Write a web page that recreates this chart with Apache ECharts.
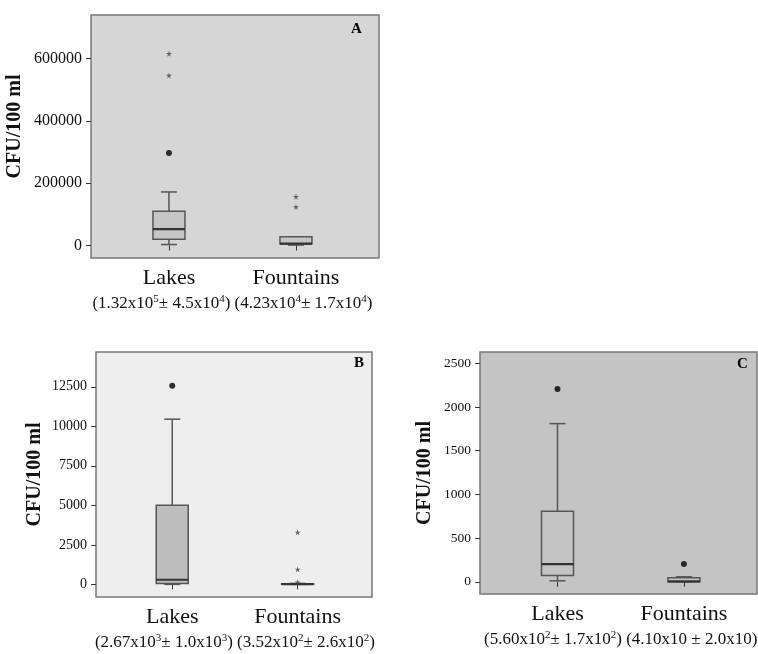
<!DOCTYPE html>
<html>
<head>
<meta charset="utf-8">
<script src="https://cdn.jsdelivr.net/npm/echarts@6/dist/echarts.min.js"></script>
<style>
  html, body { margin: 0; padding: 0; background: #fff; }
  #chart { width: 758px; height: 654px; }
</style>
</head>
<body>
<div id="chart"></div>
<script>
// groups: 1 = Lakes, 2 = Fountains
const categories = ["Lakes", "Fountains"];

// box stats: [whisker low, Q1, median, Q3, whisker high]
const lakesA = [3200, 20000, 53000, 110000, 172000];
const fountainsA = [1500, 5000, 6000, 28000, 28000];
const lakesA_circles = [297000];
const lakesA_stars = [546000, 616000];
const fountainsA_stars = [124000, 157000];

const lakesB = [0, 60, 290, 5000, 10450];
const fountainsB = [0, 0, 15, 40, 60];
const lakesB_circles = [12560];
const fountainsB_stars = [130, 950, 3290];

const lakesC = [11, 72, 202, 808, 1810];
const fountainsC = [0, 0, 5, 45, 57];
const lakesC_circles = [2206];
const fountainsC_circles = [202];

const ticksA = [0, 200000, 400000, 600000];
const ticksB = [0, 2500, 5000, 7500, 10000, 12500];
const ticksC = [0, 500, 1000, 1500, 2000, 2500];

const meansA = "{n|(1.32x10}{s|5}{n|± 4.5x10}{s|4}{n|) (4.23x10}{s|4}{n|± 1.7x10}{s|4}{n|)}";
const meansB = "{n|(2.67x10}{s|3}{n|± 1.0x10}{s|3}{n|) (3.52x10}{s|2}{n|± 2.6x10}{s|2}{n|)}";
const meansC = "{n|(5.60x10}{s|2}{n|± 1.7x10}{s|2}{n|) (4.10x10 ± 2.0x10)}";

const FONT = "Liberation Serif";
const STAR = "path://M50,0 L61,35 L98,35 L68,57 L79,91 L50,70 L21,91 L32,57 L2,35 L39,35 Z";

const panels = [
  { grid: { left: 91, top: 15, width: 288, height: 243 }, bg: "#d6d6d6", fill: "#c6c6c6",
    x: [0.386, 2.654], y: [-40000, 740000], ticks: ticksA, tickFont: 16, nameGap: 66, namePad: [0, 0, 0, 20],
    letter: "A", letterPos: [351, 22], means: meansA },
  { grid: { left: 96, top: 352, width: 276, height: 245 }, bg: "#eeeeee", fill: "#bebebe",
    x: [0.392, 2.593], y: [-800, 14700], ticks: ticksB, tickFont: 14, nameGap: 51, namePad: 0,
    letter: "B", letterPos: [354, 356], means: meansB },
  { grid: { left: 480, top: 352, width: 277, height: 242 }, bg: "#c4c4c4", fill: "#c4c4c4",
    x: [0.387, 2.578], y: [-140, 2630], ticks: ticksC, tickFont: 13.5, nameGap: 45, namePad: 0,
    letter: "C", letterPos: [737, 357], means: meansC }
];

const boxes = [[lakesA, fountainsA], [lakesB, fountainsB], [lakesC, fountainsC]];
const circles = [[lakesA_circles, []], [lakesB_circles, []], [lakesC_circles, fountainsC_circles]];
const stars = [[lakesA_stars, fountainsA_stars], [[], fountainsB_stars], [[], []]];

function toPoints(pair) {
  const out = [];
  pair.forEach((vals, i) => vals.forEach(v => out.push([i + 1, v])));
  return out;
}

function renderBox(fill) {
  return function (params, api) {
    const x = api.value(0);
    const lo = api.coord([x, api.value(1)]);
    const q1 = api.coord([x, api.value(2)]);
    const md = api.coord([x, api.value(3)]);
    const q3 = api.coord([x, api.value(4)]);
    const hi = api.coord([x, api.value(5)]);
    const cx = lo[0], half = 16, cap = 8;
    const stroke = { stroke: "#555", lineWidth: 1.5 };
    return {
      type: "group",
      children: [
        { type: "line", shape: { x1: cx, y1: hi[1], x2: cx, y2: q3[1] }, style: stroke },
        { type: "line", shape: { x1: cx, y1: q1[1], x2: cx, y2: lo[1] }, style: stroke },
        { type: "line", shape: { x1: cx - cap, y1: hi[1], x2: cx + cap, y2: hi[1] }, style: stroke },
        { type: "line", shape: { x1: cx - cap, y1: lo[1], x2: cx + cap, y2: lo[1] }, style: stroke },
        { type: "rect", shape: { x: cx - half, y: q3[1], width: half * 2, height: q1[1] - q3[1] },
          style: { fill: fill, stroke: "#555", lineWidth: 1.5 } },
        { type: "line", shape: { x1: cx - half, y1: md[1], x2: cx + half, y2: md[1] },
          style: { stroke: "#333", lineWidth: 2.2 } }
      ]
    };
  };
}

const grid = [], xAxis = [], yAxis = [], series = [], title = [];

panels.forEach((p, i) => {
  grid.push(Object.assign({ show: true, backgroundColor: p.bg, borderColor: "#777", borderWidth: 1.5,
    containLabel: false, outerBoundsMode: "none" }, p.grid));

  xAxis.push({
    type: "value", gridIndex: i, min: p.x[0], max: p.x[1],
    axisLine: { show: false }, splitLine: { show: false },
    axisTick: { show: true, customValues: [1, 2], length: 5, lineStyle: { color: "#333" } },
    axisLabel: { customValues: [1, 2], margin: 9, formatter: v => categories[Math.round(v) - 1],
      fontFamily: FONT, fontSize: 22, color: "#111" }
  });
  xAxis.push({
    type: "value", gridIndex: i, min: p.x[0], max: p.x[1], position: "bottom",
    axisLine: { show: false }, splitLine: { show: false }, axisTick: { show: false },
    axisLabel: { customValues: [1.5], margin: 36, formatter: () => p.means,
      rich: {
        n: { fontFamily: FONT, fontSize: 17, lineHeight: 20, color: "#111" },
        s: { fontFamily: FONT, fontSize: 11, lineHeight: 11, verticalAlign: "top", color: "#111" }
      } }
  });

  yAxis.push({
    type: "value", gridIndex: i, min: p.y[0], max: p.y[1],
    axisLine: { show: false }, splitLine: { show: false },
    axisTick: { show: true, customValues: p.ticks, length: 5, lineStyle: { color: "#333" } },
    axisLabel: { customValues: p.ticks, margin: 9, formatter: v => String(v),
      fontFamily: FONT, fontSize: p.tickFont, color: "#111" },
    name: "CFU/100 ml", nameLocation: "middle", nameGap: p.nameGap, nameMoveOverlap: false,
    nameTextStyle: { fontFamily: FONT, fontSize: 20, fontWeight: "bold", color: "#111", padding: p.namePad }
  });

  series.push({
    type: "custom", xAxisIndex: i * 2, yAxisIndex: i,
    renderItem: renderBox(p.fill),
    encode: { x: 0, y: [1, 2, 3, 4, 5] },
    data: boxes[i].map((b, k) => [k + 1].concat(b)),
    z: 2
  });
  series.push({
    type: "scatter", xAxisIndex: i * 2, yAxisIndex: i,
    symbol: "circle", symbolSize: 6, itemStyle: { color: "#000" },
    data: toPoints(circles[i]), z: 3
  });
  series.push({
    type: "scatter", xAxisIndex: i * 2, yAxisIndex: i,
    symbol: STAR, symbolSize: 6, itemStyle: { color: "#444" },
    data: toPoints(stars[i]), z: 3
  });

  title.push({
    text: p.letter, left: p.letterPos[0], top: p.letterPos[1], padding: 0,
    textStyle: { fontFamily: FONT, fontSize: 15, fontWeight: "bold", color: "#000" }
  });
});

const chart = echarts.init(document.getElementById("chart"), null, { renderer: "canvas" });
chart.setOption({
  animation: false,
  title: title,
  tooltip: { show: false },
  grid: grid,
  xAxis: xAxis,
  yAxis: yAxis,
  series: series
});
</script>
</body>
</html>
